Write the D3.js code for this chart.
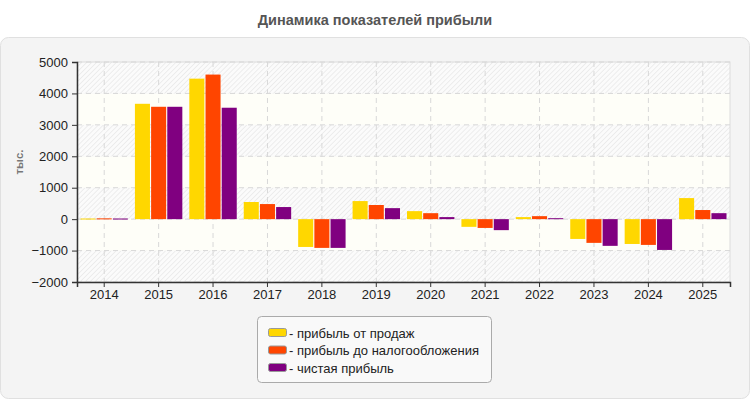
<!DOCTYPE html>
<html>
<head>
<meta charset="utf-8">
<script src="https://cdn.jsdelivr.net/npm/d3@7"></script>
<style>
  body { margin: 0; background: #fff; }
  text { font-family: "Liberation Sans", Arial, sans-serif; }
</style>
</head>
<body>
<script>
'use strict';

var years = ['2014','2015','2016','2017','2018','2019','2020','2021','2022','2023','2024','2025'];
var seriesNames = ['прибыль от продаж', 'прибыль до налогообложения', 'чистая прибыль'];
var salesProfit = [20, 3670, 4470, 545, -885, 575, 255, -245, 65, -630, -790, 670];
var pretaxProfit = [25, 3575, 4600, 480, -915, 450, 190, -280, 95, -755, -820, 290];
var netProfit = [20, 3575, 3545, 385, -915, 350, 65, -350, 30, -850, -980, 190];
var yTicks = [-2000, -1000, 0, 1000, 2000, 3000, 4000, 5000];
var colors = ['#FFD700', '#FF4500', '#800080'];

var series = [salesProfit, pretaxProfit, netProfit];

var width = 750, height = 400;
var margin = {left: 77, right: 20, top: 62, bottom: 118};

var svg = d3.select('body').append('svg')
    .attr('width', width)
    .attr('height', height);

var defs = svg.append('defs');
var pat = defs.append('pattern')
    .attr('id', 'hatch')
    .attr('patternUnits', 'userSpaceOnUse')
    .attr('width', 3.5).attr('height', 3.5)
    .attr('patternTransform', 'rotate(45)');
pat.append('rect').attr('width', 3.5).attr('height', 3.5).attr('fill', '#fbfbfb');
pat.append('line').attr('x1', 0).attr('y1', 0).attr('x2', 0).attr('y2', 3.5)
    .attr('stroke', '#e9e9e9').attr('stroke-width', 1.5);

// title
svg.append('text')
    .attr('x', width/2).attr('y', 25)
    .attr('text-anchor', 'middle')
    .attr('font-size', 14.5).attr('font-weight', 'bold')
    .attr('fill', '#555')
    .text('Динамика показателей прибыли');

// panel
svg.append('rect')
    .attr('x', 0.5).attr('y', 37.5)
    .attr('width', width-1).attr('height', 361)
    .attr('rx', 8)
    .attr('fill', '#f4f4f4').attr('stroke', '#e0e0e0');

var x = d3.scaleBand()
    .domain(years)
    .range([margin.left, width - margin.right]);

var y = d3.scaleLinear()
    .domain([-2000, 5000])
    .range([height - margin.bottom, margin.top]);

var x1 = d3.scaleBand()
    .domain(d3.range(series.length))
    .range([3.5, x.bandwidth() - 3.5])
    .paddingInner(0.07);

var plot = svg.append('g');

// alternating background bands
var bands = d3.pairs(yTicks);
plot.selectAll('rect.band')
  .data(bands)
  .enter().append('rect')
    .attr('class', 'band')
    .attr('x', margin.left)
    .attr('width', width - margin.right - margin.left)
    .attr('y', function(d) { return y(d[1]); })
    .attr('height', function(d) { return y(d[0]) - y(d[1]); })
    .attr('fill', function(d, i) { return i % 2 === 0 ? 'url(#hatch)' : '#fefef8'; });

// plot border
plot.append('rect')
    .attr('x', margin.left).attr('y', margin.top)
    .attr('width', width - margin.right - margin.left)
    .attr('height', height - margin.bottom - margin.top)
    .attr('fill', 'none').attr('stroke', '#dcdcdc');

// grid
plot.selectAll('line.hgrid')
  .data(yTicks)
  .enter().append('line')
    .attr('x1', margin.left).attr('x2', width - margin.right)
    .attr('y1', function(d) { return y(d); })
    .attr('y2', function(d) { return y(d); })
    .attr('stroke', '#d8d8d8').attr('stroke-dasharray', '5,4');

plot.selectAll('line.vgrid')
  .data(years)
  .enter().append('line')
    .attr('y1', margin.top).attr('y2', height - margin.bottom)
    .attr('x1', function(d) { return x(d) + x.bandwidth()/2; })
    .attr('x2', function(d) { return x(d) + x.bandwidth()/2; })
    .attr('stroke', '#d8d8d8').attr('stroke-dasharray', '5,4');

// bars
series.forEach(function(vals, si) {
  plot.selectAll('rect.s' + si)
    .data(vals)
    .enter().append('rect')
      .attr('x', function(d, i) { return x(years[i]) + x1(si); })
      .attr('width', x1.bandwidth())
      .attr('y', function(d) { return y(Math.max(0, d)); })
      .attr('height', function(d) { return Math.max(1, Math.abs(y(d) - y(0))); })
      .attr('fill', colors[si]);
});

// axes
var yAxis = svg.append('g')
    .attr('transform', 'translate(' + margin.left + ',0)')
    .call(d3.axisLeft(y).tickValues(yTicks).tickFormat(d3.format('d')).tickSize(5).tickPadding(4));
var xAxis = svg.append('g')
    .attr('transform', 'translate(0,' + (height - margin.bottom) + ')')
    .call(d3.axisBottom(x).tickSize(5).tickPadding(3));
[yAxis, xAxis].forEach(function(a) {
  a.select('.domain').attr('stroke', '#333').attr('stroke-width', 1.5);
  a.selectAll('.tick line').attr('stroke', '#333');
  a.selectAll('text').attr('font-size', 13).attr('fill', '#222')
    .attr('font-family', '"Liberation Sans", Arial, sans-serif');
});

svg.append('text')
    .attr('transform', 'translate(23,162) rotate(-90)')
    .attr('text-anchor', 'middle')
    .attr('font-size', 11.5).attr('font-weight', 'bold')
    .attr('fill', '#777')
    .text('тыс.');

// legend
var legend = svg.append('g');
legend.append('rect')
    .attr('x', 257.5).attr('y', 316.5)
    .attr('width', 234).attr('height', 66)
    .attr('rx', 4)
    .attr('fill', '#f9f9f9').attr('stroke', '#aaa');

var item = legend.selectAll('g.item')
  .data(seriesNames)
  .enter().append('g')
    .attr('transform', function(d, i) { return 'translate(268,' + (333 + i*17.5) + ')'; });
item.append('rect')
    .attr('x', 0.5).attr('y', -4.5)
    .attr('width', 18).attr('height', 8)
    .attr('rx', 2)
    .attr('fill', function(d, i) { return colors[i]; })
    .attr('stroke', '#999');
item.append('text')
    .attr('x', 21).attr('y', 4.5)
    .attr('font-size', 13).attr('fill', '#222')
    .text(function(d) { return '- ' + d; });
</script>
</body>
</html>
